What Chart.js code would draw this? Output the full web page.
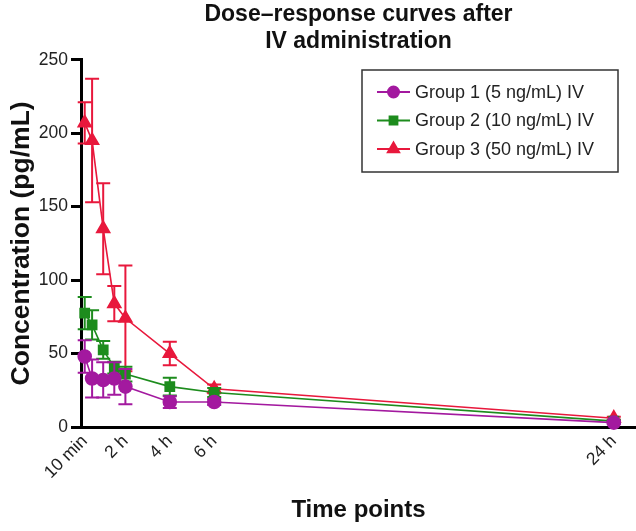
<!DOCTYPE html>
<html>
<head>
<meta charset="utf-8">
<script src="https://cdn.jsdelivr.net/npm/chart.js@4.4.1/dist/chart.umd.min.js"></script>
<style>
  html, body { margin: 0; padding: 0; background: #fff; }
  #wrap { width: 636px; height: 531px; }
</style>
</head>
<body>
<div id="wrap"><canvas id="c" width="636" height="531"></canvas></div>
<script>
// ---- data ----
const timesH = [0.167, 0.5, 1, 1.5, 2, 4, 6, 24];
const tickValues = [0.167, 2, 4, 6, 24];
const tickLabels = ['10 min', '2 h', '4 h', '6 h', '24 h'];
const seriesNames = ['Group 1 (5 ng/mL) IV', 'Group 2 (10 ng/mL) IV', 'Group 3 (50 ng/mL) IV'];
const group1 = [48, 33, 32, 33, 27.5, 17, 17, 3];
const group1Err = [11, 13, 12, 11, 12, 4, 2, 1];
const group2 = [77.5, 69.5, 52.5, 40.5, 36, 27.5, 23.5, 4];
const group2Err = [11, 10, 6, 4, 5, 6, 3, 1];
const group3 = [207, 195, 135, 84, 74, 50, 26, 6];
const group3Err = [14, 42, 31, 12, 36, 8, 3, 1];

const FONT = "'Liberation Sans', Arial, Helvetica, sans-serif";
const colors = ['#a3199f', '#1d8c1d', '#e8183c'];
const shapes = ['circle', 'rect', 'triangle'];
const radii = [6.5, 6.5, 7.5];
const values = [group1, group2, group3];
const errors = [group1Err, group2Err, group3Err];

const datasets = values.map((vals, i) => ({
  label: seriesNames[i],
  data: timesH.map((t, j) => ({ x: t, y: vals[j] })),
  errs: errors[i],
  borderColor: colors[i],
  backgroundColor: colors[i],
  pointBackgroundColor: colors[i],
  pointBorderColor: colors[i],
  pointStyle: shapes[i],
  pointRadius: radii[i],
  borderWidth: 1.6,
  tension: 0,
  fill: false,
  clip: false
}));

const errorBars = {
  id: 'errorBars',
  beforeDatasetDraw(chart, args) {
    const ds = chart.data.datasets[args.index];
    const meta = chart.getDatasetMeta(args.index);
    const ys = chart.scales.y;
    const ctx = chart.ctx;
    ctx.save();
    ctx.strokeStyle = ds.borderColor;
    ctx.lineWidth = 2;
    meta.data.forEach((pt, j) => {
      const v = ds.data[j].y, e = ds.errs[j];
      const top = ys.getPixelForValue(v + e);
      const bot = ys.getPixelForValue(Math.max(0, v - e));
      const x = pt.x, hw = 7;
      ctx.beginPath();
      ctx.moveTo(x, top); ctx.lineTo(x, bot);
      ctx.moveTo(x - hw, top); ctx.lineTo(x + hw, top);
      ctx.moveTo(x - hw, bot); ctx.lineTo(x + hw, bot);
      ctx.stroke();
    });
    ctx.restore();
  }
};

const boxLegend = {
  id: 'boxLegend',
  afterDraw(chart) {
    const ctx = chart.ctx;
    const left = 362, top = 70, w = 256, h = 102;
    ctx.save();
    ctx.strokeStyle = '#333';
    ctx.lineWidth = 1.5;
    ctx.strokeRect(left, top, w, h);
    ctx.font = '18px ' + FONT;
    ctx.textBaseline = 'middle';
    chart.data.datasets.forEach((ds, i) => {
      const y = 92 + i * 28.5;
      ctx.strokeStyle = ds.borderColor;
      ctx.lineWidth = 2;
      ctx.beginPath(); ctx.moveTo(377, y); ctx.lineTo(410, y); ctx.stroke();
      ctx.fillStyle = ds.borderColor;
      Chart.helpers.drawPoint(ctx, { pointStyle: ds.pointStyle, radius: ds.pointRadius - 1, borderWidth: 1 }, 393.5, y);
      ctx.fillStyle = '#222';
      ctx.fillText(ds.label, 415, y + 1);
    });
    ctx.restore();
  }
};

new Chart(document.getElementById('c'), {
  type: 'line',
  data: { datasets },
  options: {
    responsive: false,
    animation: false,
    devicePixelRatio: 1,
    layout: { autoPadding: false, padding: { left: 0, right: 0, top: 1, bottom: 0 } },
    plugins: {
      legend: { display: false },
      tooltip: { enabled: false },
      title: {
        display: true,
        fullSize: false,
        text: ['Dose–response curves after', 'IV administration'],
        color: '#111',
        font: { family: FONT, size: 23, weight: 'bold', lineHeight: 1.19 },
        padding: { top: 0, bottom: 4 }
      }
    },
    scales: {
      x: {
        type: 'linear',
        min: 0,
        max: 25,
        afterBuildTicks(scale) { scale.ticks = tickValues.map(v => ({ value: v })); },
        afterFit(scale) { scale.height = 104; scale.paddingLeft = 0; scale.paddingRight = 0; },
        ticks: {
          autoSkip: false,
          minRotation: 45,
          maxRotation: 45,
          color: '#222',
          font: { family: FONT, size: 17.5 },
          padding: 4,
          callback(value, index) { return tickLabels[index]; }
        },
        grid: { display: true, drawOnChartArea: false, drawTicks: true, tickLength: 0, color: '#000' },
        border: { display: true, color: '#000', width: 3 },
        title: {
          display: true,
          text: 'Time points',
          color: '#111',
          font: { family: FONT, size: 24, weight: 'bold' },
          padding: { top: 0, bottom: 6 }
        }
      },
      y: {
        min: 0,
        max: 250,
        afterFit(scale) { scale.width = 81; },
        ticks: {
          stepSize: 50,
          color: '#222',
          font: { family: FONT, size: 17.5 },
          padding: 3
        },
        grid: { display: true, drawOnChartArea: false, drawTicks: true, tickLength: 10, color: '#000', lineWidth: 3 },
        border: { display: true, color: '#000', width: 3 },
        title: {
          display: true,
          text: 'Concentration (pg/mL)',
          color: '#111',
          font: { family: FONT, size: 26.5, weight: 'bold' },
          padding: { top: 6, bottom: 0 }
        }
      }
    }
  },
  plugins: [errorBars, boxLegend]
});
</script>
</body>
</html>
